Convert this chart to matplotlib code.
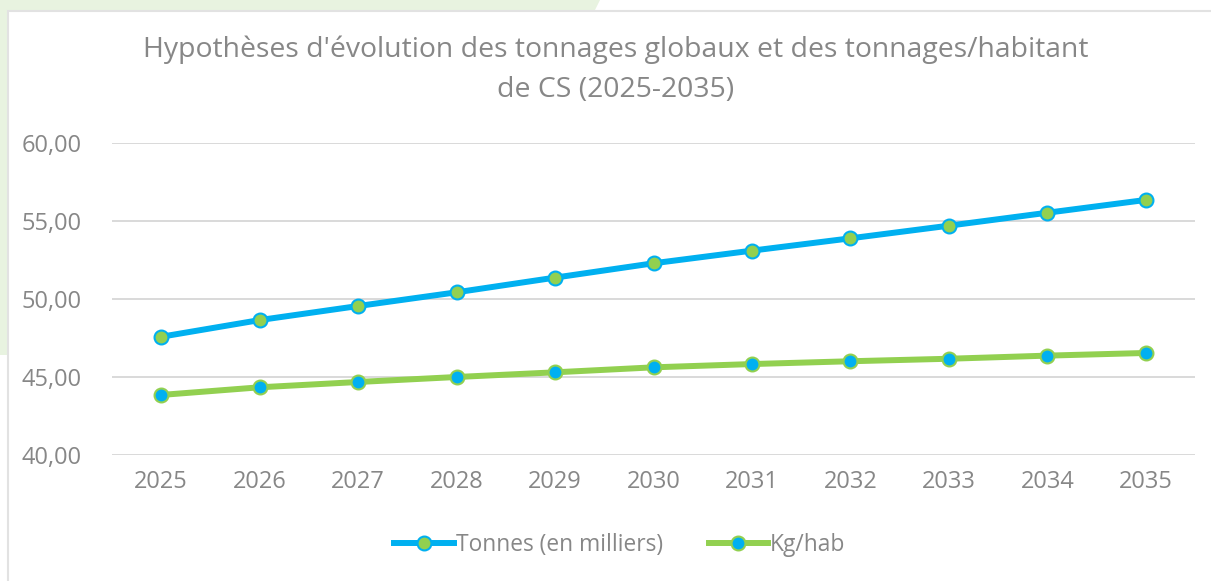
import matplotlib.pyplot as plt
import matplotlib.patches as patches
from matplotlib.lines import Line2D
import numpy as np

years = ['2025', '2026', '2027', '2028', '2029', '2030', '2031', '2032', '2033', '2034', '2035']
tonnes = [47.58, 48.65, 49.55, 50.43, 51.37, 52.29, 53.10, 53.89, 54.70, 55.53, 56.35]
kg_hab = [43.85, 44.34, 44.68, 45.00, 45.30, 45.62, 45.83, 46.01, 46.17, 46.37, 46.54]
yticks = [40, 45, 50, 55, 60]

blue = '#00B0F0'
green = '#92D050'
txt = '#878787'

plt.rcParams['font.family'] = ['Open Sans', 'DejaVu Sans']

W, H = 1211, 581
fig = plt.figure(figsize=(W / 100, H / 100), dpi=100)

# decorative background: green band top-left, white card with light border
bg = fig.add_axes([0, 0, 1, 1], zorder=-10)
bg.set_xlim(0, W)
bg.set_ylim(H, 0)
bg.axis('off')
bg.add_patch(patches.Polygon([(0, 0), (600, 0), (594, 12), (0, 12)], closed=True,
                             facecolor='#E8F3E0', edgecolor='none'))
bg.add_patch(patches.Rectangle((0, 0), 8, 355, facecolor='#E8F3E0', edgecolor='none'))
bg.add_patch(patches.Rectangle((7.5, 10.5), W, H, facecolor='white', edgecolor='#E2E2E2', lw=1.5))

ax = fig.add_axes([112 / W, 1 - 455 / H, (1195 - 112) / W, (455 - 143) / H])
ax.set_facecolor('none')
x = np.arange(len(years))

ax.plot(x, tonnes, color=blue, lw=4.3, marker='o', markersize=10,
        markerfacecolor=green, markeredgecolor=blue, markeredgewidth=1.5,
        solid_capstyle='round', zorder=3)
ax.plot(x, kg_hab, color=green, lw=4.3, marker='o', markersize=10,
        markerfacecolor=blue, markeredgecolor=green, markeredgewidth=1.5,
        solid_capstyle='round', zorder=3)

ax.set_xlim(-0.5, len(years) - 0.5)
ax.set_ylim(40, 60)
ax.set_yticks(yticks)
ax.set_yticklabels(['%d,00' % v for v in yticks])
ax.set_xticks(x)
ax.set_xticklabels(years)
ax.tick_params(axis='both', length=0, labelsize=17, labelcolor=txt)
ax.tick_params(axis='y', pad=22)
ax.tick_params(axis='x', pad=11)
ax.grid(axis='y', color='#D9D9D9', lw=1.4)
ax.set_axisbelow(True)
for s in ax.spines.values():
    s.set_visible(False)

fig.text(616 / W, 1 - 50 / H, "Hypothèses d'évolution des tonnages globaux et des tonnages/habitant",
         ha='center', va='center', fontsize=20.4, color=txt)
fig.text(616 / W, 1 - 90 / H, "de CS (2025-2035)",
         ha='center', va='center', fontsize=20.4, color=txt)

handles = [
    Line2D([], [], color=blue, lw=4.3, marker='o', markersize=10,
           markerfacecolor=green, markeredgecolor=blue, markeredgewidth=1.5),
    Line2D([], [], color=green, lw=4.3, marker='o', markersize=10,
           markerfacecolor=blue, markeredgecolor=green, markeredgewidth=1.5),
]
leg = fig.legend(handles, ['Tonnes (en milliers)', 'Kg/hab'], loc='center',
                 bbox_to_anchor=(620 / W, 1 - 545 / H), ncol=2, frameon=False,
                 fontsize=16.4, handlelength=2.6, handletextpad=0.1, columnspacing=2.0)
for t in leg.get_texts():
    t.set_color(txt)

fig.savefig('out.png', dpi=100)
